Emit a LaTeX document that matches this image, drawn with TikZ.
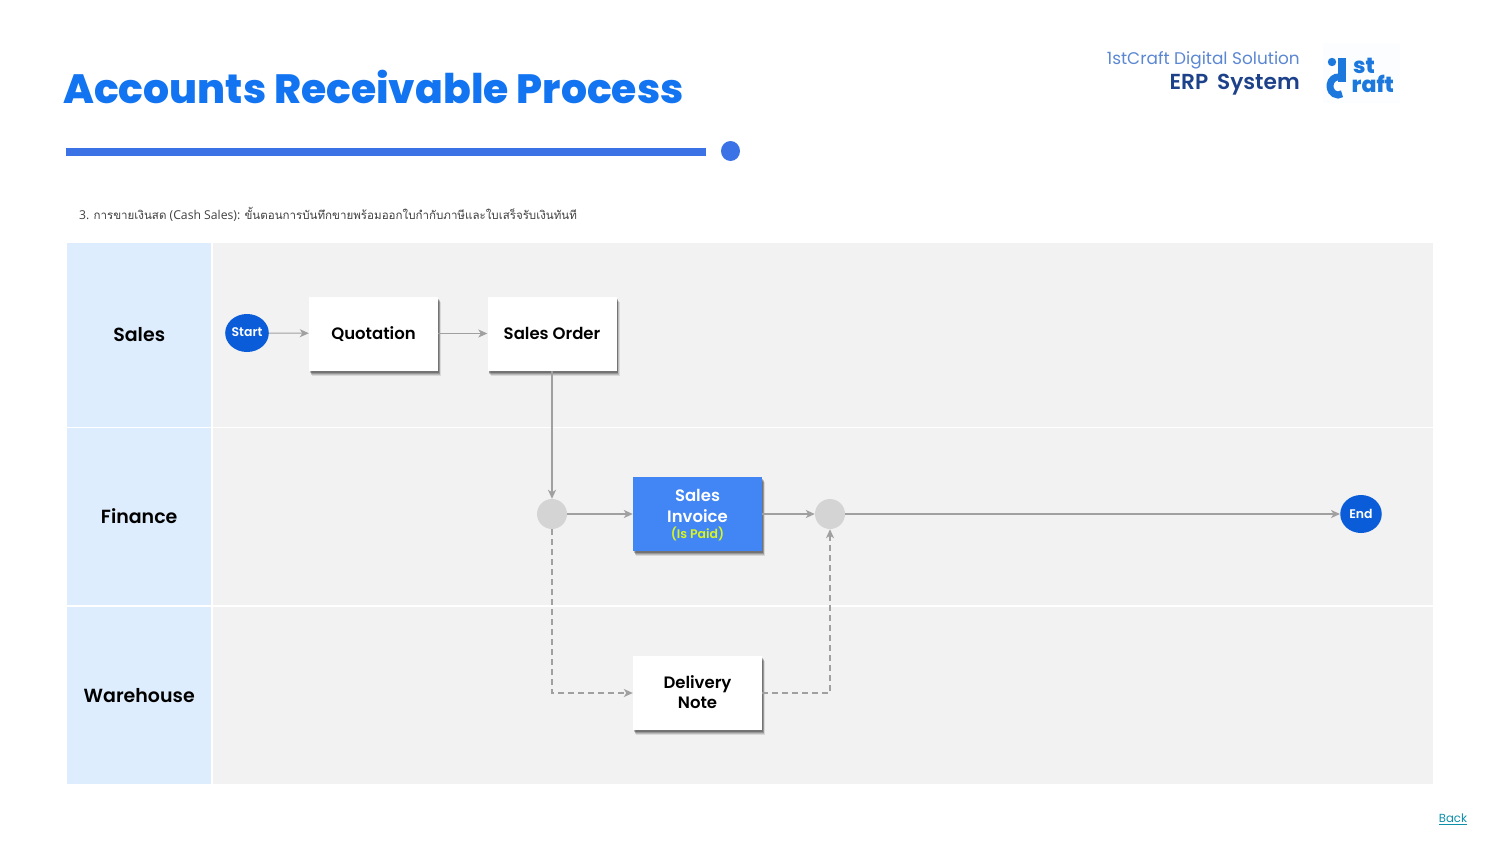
\documentclass[tikz,border=0pt]{standalone}
\usepackage{fontspec}
\setmainfont{Poppins}
\newfontfamily\popsemi{Poppins SemiBold}
\newfontfamily\popheavy{Poppins ExtraBold}
\newfontfamily\thaifont[Script=Thai]{Loma}
\newfontfamily\captionfont{Open Sans}
\usepackage{tikz}
\usetikzlibrary{arrows.meta,shadows,shapes.geometric}
\definecolor{lanehead}{HTML}{DDEDFD}
\definecolor{lanebody}{HTML}{F2F2F2}
\definecolor{flowgray}{HTML}{A0A0A0}
\definecolor{titleblue}{HTML}{1274F0}
\definecolor{barblue}{HTML}{3B73E6}
\definecolor{circleblue}{HTML}{0A5CD8}
\definecolor{invoiceblue}{HTML}{4285F4}
\definecolor{paidgreen}{HTML}{D8F520}
\definecolor{navy}{HTML}{1D4289}
\definecolor{softblue}{HTML}{5B87D2}
\definecolor{logoblue}{HTML}{1C78DC}
\definecolor{logopale}{HTML}{FBFDFE}
\definecolor{linkteal}{HTML}{0E8FA8}
\tikzset{
    head/.style={fill=lanehead,draw=none,minimum width=144pt,inner sep=0pt,font=\popsemi\fontsize{19}{21}\selectfont},
    body/.style={fill=lanebody,draw=none,minimum width=1220pt,inner sep=0pt},
    terminal/.style={ellipse,fill=circleblue,draw=none,inner sep=0pt,minimum width=41.5pt,minimum height=38pt,text=white,font=\popsemi\fontsize{12.5}{14}\selectfont},
    box/.style={rectangle,fill=white,draw=none,inner sep=0pt,minimum width=129pt,minimum height=74pt,align=center,
        font=\popsemi\fontsize{16.5}{20}\selectfont,
        general shadow={shadow xshift=3pt,shadow yshift=-5pt,opacity=.1,fill=black},
        general shadow={shadow xshift=2.4pt,shadow yshift=-4pt,opacity=.14,fill=black},
        general shadow={shadow xshift=1.7pt,shadow yshift=-3pt,opacity=.18,fill=black},
        general shadow={shadow xshift=1pt,shadow yshift=-2pt,opacity=.24,fill=black}},
    gate/.style={circle,fill=black!17,draw=none,inner sep=0pt,minimum size=30pt},
    flow/.style={draw=flowgray,line width=1.5pt,-{Stealth[inset=2.5pt,length=9pt,width=8pt]}},
    thin flow/.style={flow,line width=1pt},
    back flow/.style={flow,dashed,dash pattern=on 6pt off 4pt}
}
\begin{document}
\begin{tikzpicture}[x=1pt,y=-1pt]
    \useasboundingbox (0, 0) rectangle (1500, 844);

    % header
    \node[anchor=west,inner sep=0pt,text=titleblue,font=\popheavy\fontsize{40.9}{46}\selectfont] (title) at (63, 86.5) {Accounts Receivable Process};
    \node[rectangle,fill=barblue,inner sep=0pt,minimum width=640pt,minimum height=8pt,anchor=west] (bar) at (66, 152) {};
    \node[ellipse,fill=barblue,inner sep=0pt,minimum width=19pt,minimum height=20pt] (bardot) at (730.5, 151) {};
    \node[anchor=east,inner sep=0pt,text=softblue,font=\fontsize{16.9}{20}\selectfont] (company) at (1300, 60) {1stCraft Digital Solution};
    \node[anchor=east,inner sep=0pt,text=navy,font=\popsemi\fontsize{21.7}{24}\selectfont] (system) at (1300, 85) {ERP\ \,System};

    % logo
    \fill[logopale] (1323, 43) rectangle (1400, 103);
    \fill[logoblue] (1332, 62) circle (4.2);
    \fill[logoblue] (1338, 58) rectangle (1346, 82);
    \draw[logoblue,line width=7pt] (1342, 78.2) arc[start angle=60,end angle=300,x radius=8,y radius=-9];
    \node[anchor=west,inner sep=0pt,align=left,text=logoblue,font=\popheavy\fontsize{22}{19}\selectfont] (logotext) at (1351.5, 75.5) {\hspace{1.5pt}st\\raft};

    % caption
    \node[anchor=west,inner sep=0pt,text=black!75,font=\captionfont\fontsize{12.2}{13}\selectfont] (caption) at (79, 214.5)
        {3. {\thaifont\fontsize{11.55}{13}\selectfont การขายเงินสด} (Cash Sales): {\thaifont\fontsize{11.55}{13}\selectfont ขั้นตอนการบันทึกขายพร้อมออกใบกำกับภาษีและใบเสร็จรับเงินทันที}};

    % lanes
    \node[head,minimum height=184pt,anchor=north west] (sales) at (67, 243) {\raisebox{1pt}{Sales}};
    \node[head,minimum height=177pt,anchor=north west] (finance) at (67, 428) {\raisebox{1pt}{Finance}};
    \node[head,minimum height=177pt,anchor=north west] (warehouse) at (67, 607) {Warehouse};
    \node[body,minimum height=184pt,anchor=north west] (salesbody) at (213, 243) {};
    \node[body,minimum height=177pt,anchor=north west] (financebody) at (213, 428) {};
    \node[body,minimum height=177pt,anchor=north west] (warehousebody) at (213, 607) {};

    % flow nodes
    \node[terminal] (start) at (247, 333) {\raisebox{1pt}{Start}};
    \node[box] (quotation) at (373.5, 333.5) {\raisebox{-1pt}[\height][\depth]{Quotation}};
    \node[box] (order) at (552, 333.5) {Sales Order};
    \node[gate] (g1) at (552, 514) {};
    \node[box,fill=invoiceblue,text=white] (invoice) at (697.5, 514) {\rule{0pt}{15pt}Sales\\[1pt]Invoice\\[-4pt]{\color{paidgreen}\fontsize{12.5}{14}\selectfont (Is Paid)}};
    \node[gate] (g2) at (830, 514) {};
    \node[terminal] (finish) at (1361, 514) {\raisebox{1pt}{End}};
    \node[box] (delivery) at (697.5, 693) {Delivery\\Note\rule[-2pt]{0pt}{2pt}};

    \draw[thin flow] (start) -- (quotation);
    \draw[thin flow] (quotation) -- (order);
    \draw[flow] (order) -- (g1);
    \draw[flow] (g1) -- (invoice);
    \draw[flow] (invoice) -- (g2);
    \draw[flow] (g2) -- (finish);
    \draw[back flow] (g1) |- (delivery);
    \draw[back flow] (delivery) -| (g2);

    % link
    \node[anchor=center,inner sep=0pt,text=linkteal,font=\fontsize{11.7}{14}\selectfont] (back) at (1453, 819) {\underline{Back}};
\end{tikzpicture}
\end{document}
